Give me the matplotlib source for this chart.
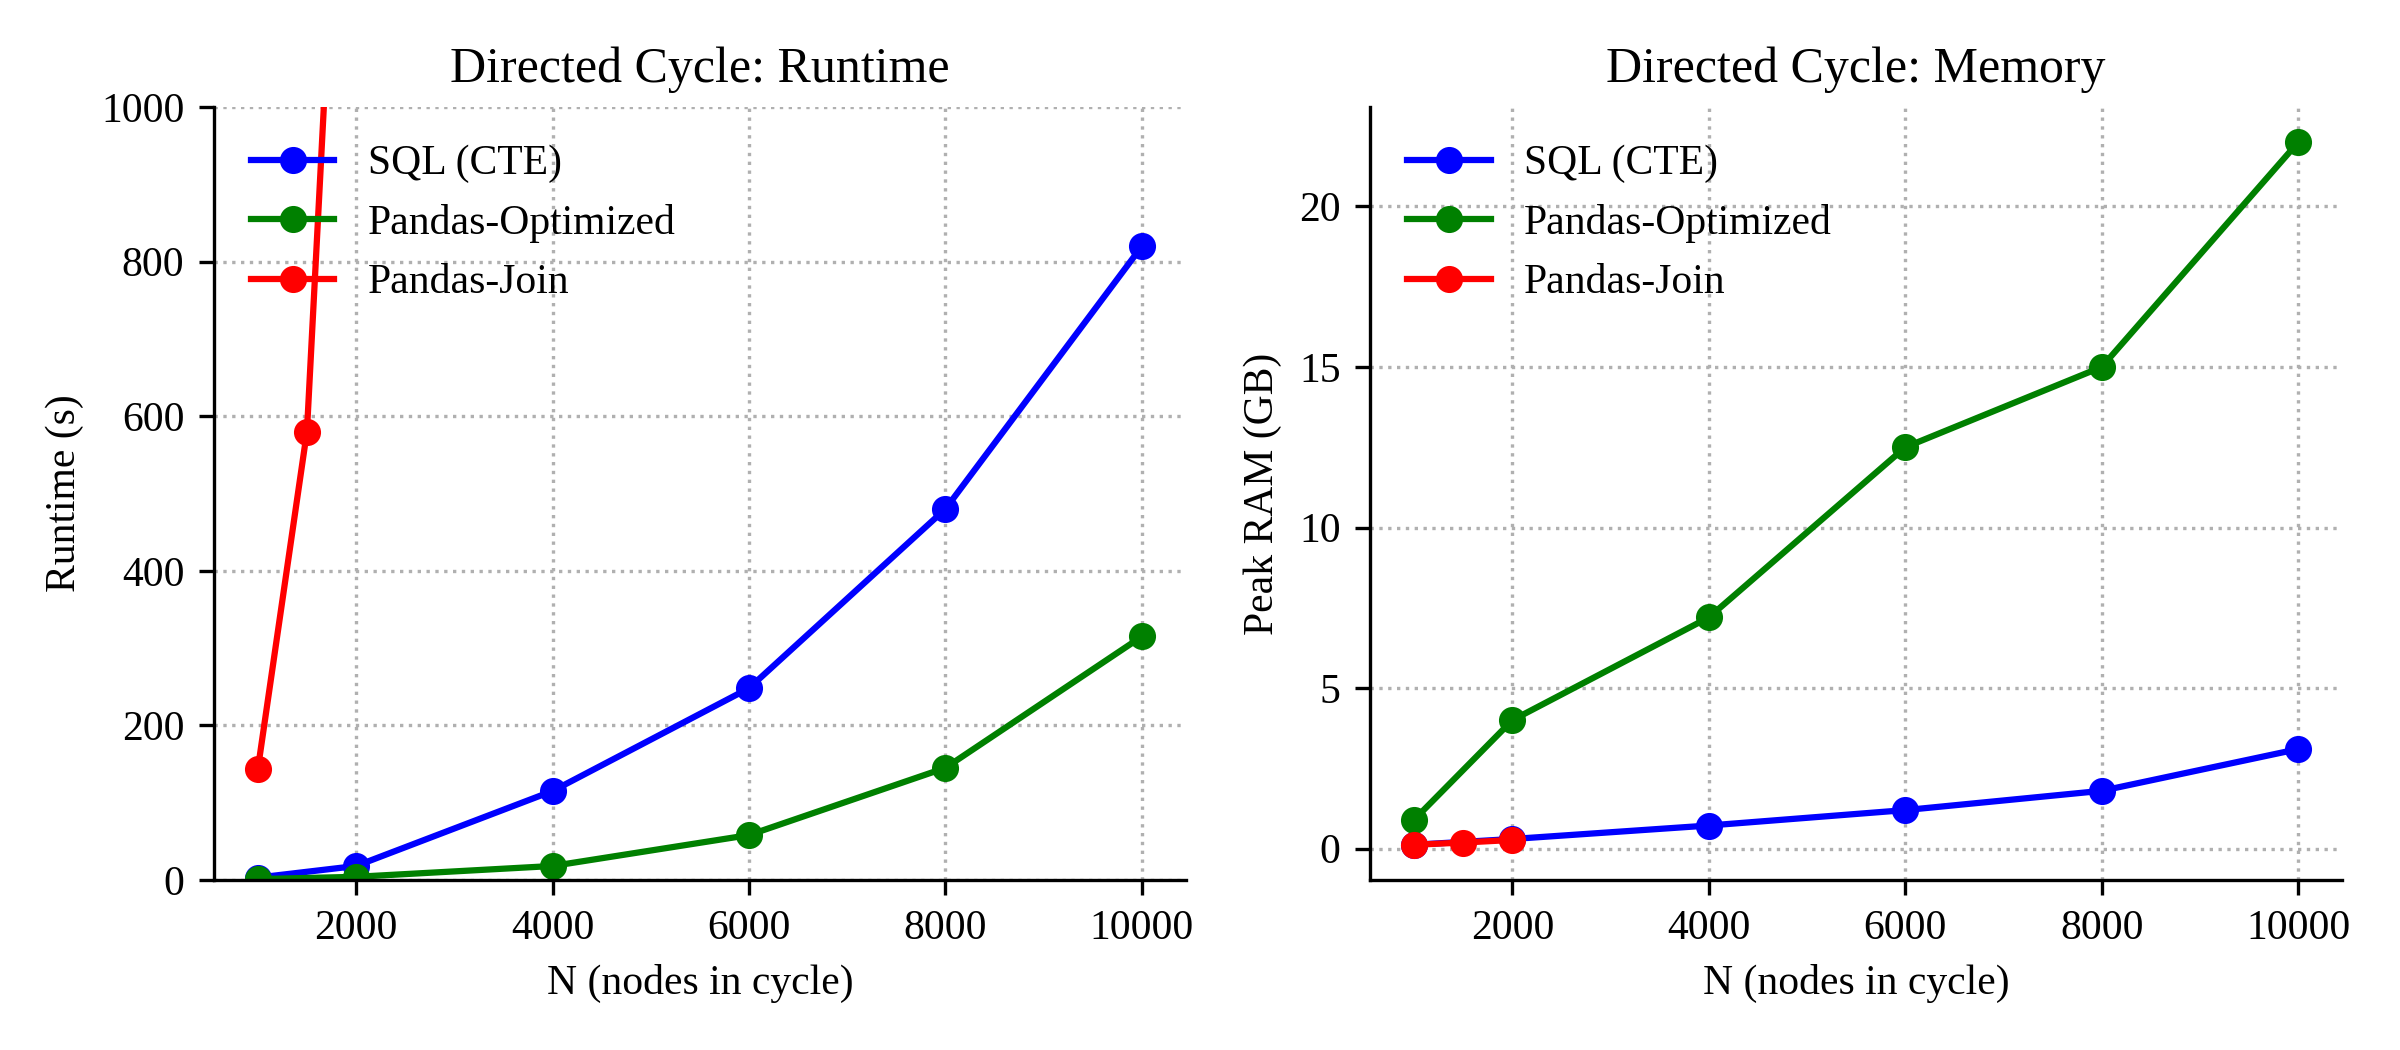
import matplotlib
matplotlib.use('Agg')
import matplotlib.pyplot as plt

plt.rcParams['font.family'] = ['Liberation Serif', 'DejaVu Serif']

# cycle sizes
n_sql = [1000, 2000, 4000, 6000, 8000, 10000]
n_opt = [1000, 2000, 4000, 6000, 8000, 10000]
n_join = [1000, 1500, 2000]

# runtime in seconds
rt_sql = [3, 18, 115, 248, 480, 820]
rt_opt = [1, 4, 18, 58, 145, 315]
rt_join = [143, 580, 1800]

# peak memory in GB
mem_sql = [0.12, 0.3, 0.72, 1.2, 1.8, 3.1]
mem_opt = [0.9, 4.0, 7.2, 12.5, 15.0, 22.0]
mem_join = [0.12, 0.19, 0.27]

labels = ['SQL (CTE)', 'Pandas-Optimized', 'Pandas-Join']
colors = ['blue', 'green', 'red']


def draw(ax, series, title, ylabel):
    for (x, y), label, c in zip(series, labels, colors):
        ax.plot(x, y, marker='o', color=c, label=label, linewidth=1.5, markersize=5.5)
    ax.set_title(title, fontsize=12)
    ax.set_xlabel('N (nodes in cycle)', fontsize=10)
    ax.set_ylabel(ylabel, fontsize=10)
    ax.tick_params(labelsize=10)
    ax.grid(True, linestyle=':', color='#b0b0b0', linewidth=0.8)
    ax.spines['top'].set_visible(False)
    ax.spines['right'].set_visible(False)
    ax.legend(loc='upper left', frameon=False, fontsize=10)


fig, (ax1, ax2) = plt.subplots(1, 2, figsize=(8, 3.5), dpi=300)
draw(ax1, [(n_sql, rt_sql), (n_opt, rt_opt), (n_join, rt_join)],
     'Directed Cycle: Runtime', 'Runtime (s)')
ax1.set_ylim(0, 1000)
draw(ax2, [(n_sql, mem_sql), (n_opt, mem_opt), (n_join, mem_join)],
     'Directed Cycle: Memory', 'Peak RAM (GB)')

fig.subplots_adjust(left=0.089, right=0.976, bottom=0.162, top=0.898, wspace=0.189)
fig.savefig('out.png', dpi=300)
